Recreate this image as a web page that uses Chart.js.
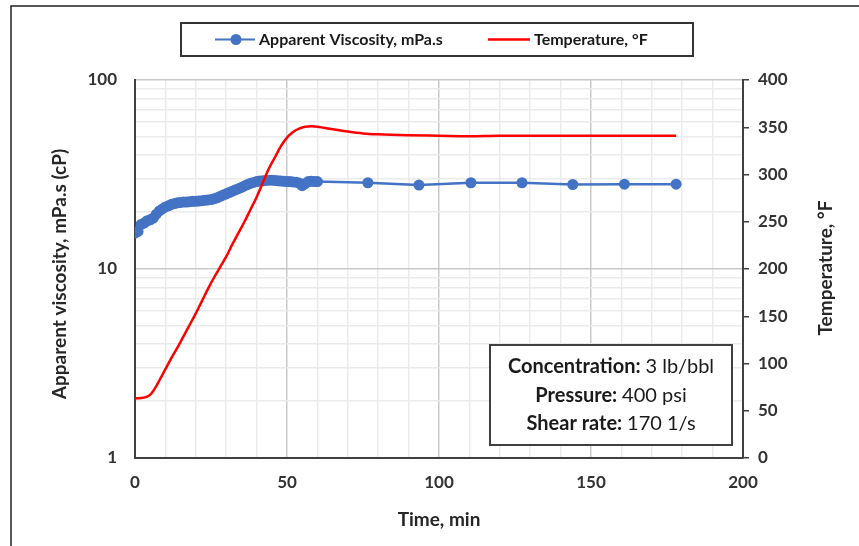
<!DOCTYPE html>
<html>
<head>
<meta charset="utf-8">
<script src="https://cdn.jsdelivr.net/npm/chart.js@4.4.1/dist/chart.umd.min.js"></script>
<style>
  html, body { margin: 0; padding: 0; background: #fff; }
  #wrap { width: 859px; height: 546px; position: relative; }
</style>
</head>
<body>
<div id="wrap"><canvas id="grafico"></canvas></div>
<script>
// dados
const timeVisc = [0,1,2,3,4,5,6,7,8,9,10,11,12,13,14,15,16,17,18,19,20,21,22,23,24,25,26,27,28,29,30,
  31,32,33,34,35,36,37,38,39,40,41,42,43,44,45,46,47,48,49,50,51,52,53,54,55,56,57,58,59,60,
  76.6,93.4,110.5,127.3,144,161,178]
const viscosity = [15.5,15.8,17.2,17.5,18.0,18.2,18.6,19.5,20.3,20.8,21.3,21.6,22.0,22.2,22.4,22.5,22.6,22.6,22.7,22.8,22.8,
  22.9,23.0,23.1,23.2,23.3,23.5,23.8,24.2,24.6,25.0,25.4,25.8,26.2,26.6,27.0,27.5,28.0,28.4,28.7,29.0,
  29.2,29.3,29.4,29.5,29.5,29.4,29.3,29.2,29.1,29.0,29.0,28.9,28.8,28.5,27.6,28.3,29.0,29.1,29.0,29.0,
  28.6,27.8,28.6,28.6,28.0,28.1,28.1]

const timeTemp = [0,2,4,5,6,7,8,10,12,14,16,18,20,22,24,26,28,30,32,34,36,38,40,42,44,46,48,50,52,54,56,58,60,62,65,70,75,80,90,100,110,120,140,160,178]
const temperature = [63,63.5,65,67,71,76,82,94,106,117,129,141,153,166,179,191,202,213,226,238,250,263,276,291,306,318,330,339,345,348.5,350.5,351,350.5,349.5,348,345.5,343.5,342.5,341.5,341,340.5,341,341,341,341]

const logTicks = [1,2,3,4,5,6,7,8,9,10,20,30,40,50,60,70,80,90,100]
const logLabels = [1, 10, 100]

const legendLabels = ['Apparent Viscosity, mPa.s', 'Temperature, °F']
const boxLines = [['Concentration: ', '3 lb/bbl'], ['Pressure: ', '400 psi'], ['Shear rate: ', '170 1/s']]

const blue = '#4472C4'
const red = '#FF0000'
const FONT = 'Lato, "Open Sans", sans-serif'

Chart.defaults.font.family = FONT
Chart.defaults.color = '#333'

// títulos, legenda, caixa de texto e moldura
const extras = {
  id: 'extras',
  afterDraw(chart) {
    const c = chart.ctx
    const a = chart.chartArea
    c.save()

    // moldura externa
    c.strokeStyle = '#222'
    c.lineWidth = 1.5
    c.beginPath()
    c.moveTo(11, 546)
    c.lineTo(11, 6)
    c.lineTo(859, 6)
    c.stroke()

    // títulos dos eixos
    c.fillStyle = '#262626'
    c.font = 'bold 19px ' + FONT
    c.textAlign = 'center'
    c.textBaseline = 'middle'
    c.save()
    c.translate(60, 274)
    c.rotate(-Math.PI / 2)
    c.fillText('Apparent viscosity, mPa.s (cP)', 0, 0)
    c.restore()
    c.save()
    c.translate(826, 268)
    c.rotate(-Math.PI / 2)
    c.fillText('Temperature, °F', 0, 0)
    c.restore()
    c.fillText('Time, min', (a.left + a.right) / 2, 520)

    // legenda
    c.fillStyle = '#fff'
    c.fillRect(181, 23, 512, 33)
    c.strokeStyle = '#333'
    c.lineWidth = 2
    c.strokeRect(181, 23, 512, 33)
    const ly = 39.5
    c.lineWidth = 2
    c.strokeStyle = blue
    c.beginPath(); c.moveTo(215, ly); c.lineTo(255, ly); c.stroke()
    c.fillStyle = blue
    c.beginPath(); c.arc(236, ly, 5.5, 0, Math.PI * 2); c.fill()
    c.strokeStyle = red
    c.lineWidth = 2.5
    c.beginPath(); c.moveTo(488, ly); c.lineTo(530, ly); c.stroke()
    c.fillStyle = '#1a1a1a'
    c.textAlign = 'left'
    c.font = 'bold 16px ' + FONT
    c.fillText(legendLabels[0], 259, ly)
    c.fillText(legendLabels[1], 534, ly)

    // caixa de condições
    c.fillStyle = '#fff'
    c.fillRect(490, 345, 242, 100)
    c.strokeStyle = '#404040'
    c.lineWidth = 2
    c.strokeRect(490, 345, 242, 100)
    const cx = 611
    boxLines.forEach((ln, i) => {
      const y = 367 + i * 28.5
      c.font = 'bold 20px ' + FONT
      const w1 = c.measureText(ln[0]).width
      c.font = '20px ' + FONT
      const w2 = c.measureText(ln[1]).width
      let x = cx - (w1 + w2) / 2
      c.fillStyle = '#1a1a1a'
      c.font = 'bold 20px ' + FONT
      c.fillText(ln[0], x, y)
      c.font = '20px ' + FONT
      c.fillText(ln[1], x + w1, y)
    })
    c.restore()
  }
}

const tickFont = { family: FONT, size: 17, weight: 'bold' }

const config = {
  type: 'line',
  data: {
    datasets: [
      {
        label: legendLabels[1],
        data: timeTemp.map((t, i) => ({ x: t, y: temperature[i] })),
        yAxisID: 'y2',
        borderColor: red,
        borderWidth: 2.5,
        pointRadius: 0,
        cubicInterpolationMode: 'monotone',
        order: 0
      },
      {
        label: legendLabels[0],
        data: timeVisc.map((t, i) => ({ x: t, y: viscosity[i] })),
        yAxisID: 'y',
        borderColor: blue,
        backgroundColor: blue,
        borderWidth: 2.5,
        pointRadius: 5.5,
        pointBorderWidth: 0,
        order: 1
      }
    ]
  },
  options: {
    responsive: true,
    maintainAspectRatio: false,
    animation: false,
    layout: { padding: { top: 80, left: 0, right: 0, bottom: 0 } },
    plugins: { legend: { display: false }, tooltip: { enabled: false } },
    scales: {
      x: {
        type: 'linear',
        min: 0,
        max: 200,
        afterFit: s => { s.height = 88 },
        ticks: {
          stepSize: 10,
          autoSkip: false,
          maxRotation: 0,
          padding: 14,
          font: tickFont,
          callback: v => (v % 50 === 0 ? v : '')
        },
        grid: {
          drawTicks: false,
          color: c => (c.tick && c.tick.value % 50 === 0 ? '#c9c9c9' : '#ebebeb'),
          lineWidth: 1.5
        },
        border: { color: '#404040', width: 2 }
      },
      y: {
        type: 'logarithmic',
        position: 'left',
        min: 1,
        max: 100,
        afterFit: s => { s.width = 135 },
        afterBuildTicks: s => { s.ticks = logTicks.map(v => ({ value: v })) },
        ticks: {
          autoSkip: false,
          padding: 18,
          font: tickFont,
          callback: v => (logLabels.includes(v) ? v : '')
        },
        grid: {
          drawTicks: false,
          color: c => (c.tick && logLabels.includes(c.tick.value) ? '#c9c9c9' : '#ebebeb'),
          lineWidth: 1.5
        },
        border: { color: '#404040', width: 2 }
      },
      y2: {
        type: 'linear',
        position: 'right',
        min: 0,
        max: 400,
        afterFit: s => { s.width = 116 },
        ticks: { stepSize: 50, padding: 9, font: tickFont },
        grid: { drawOnChartArea: false, tickLength: 6, color: '#404040', lineWidth: 1.5 },
        border: { color: '#404040', width: 2 }
      }
    }
  },
  plugins: [extras]
}

const graph = new Chart(document.getElementById('grafico'), config)
</script>
</body>
</html>
